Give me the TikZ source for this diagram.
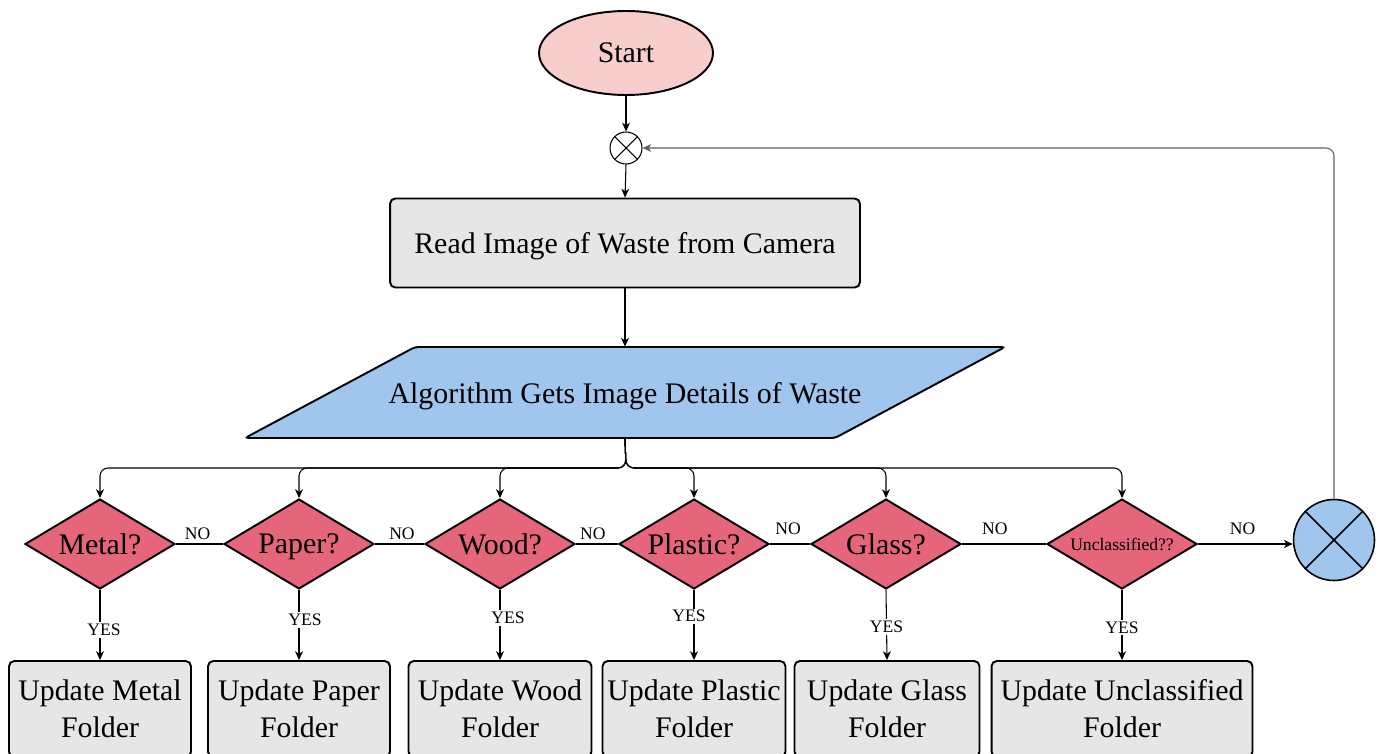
\documentclass[tikz,border=0pt]{standalone}
\usepackage{fontspec}
\setmainfont{Liberation Serif}
\usetikzlibrary{shapes.geometric,arrows.meta}
\definecolor{startpink}{HTML}{F8CECC}
\definecolor{boxgray}{HTML}{E6E6E6}
\definecolor{decred}{HTML}{E5667A}
\definecolor{algblue}{HTML}{A0C6EE}
\definecolor{fbgray}{HTML}{606060}
\begin{document}
\begin{tikzpicture}[x=0.02cm,y=-0.02cm,
  bigtext/.style={font=\fontsize{17}{21}\selectfont},
  lbl/.style={font=\fontsize{10}{12}\selectfont, inner sep=1pt},
  conn/.style={line width=0.6pt, -{Stealth[length=5pt,width=4.5pt,inset=1.5pt]}},
  plainline/.style={line width=0.6pt},
  decision/.style={diamond, draw, line width=1.1pt, fill=decred, minimum width=3cm, minimum height=1.8cm, inner sep=0pt, shape aspect=1.67, bigtext, text depth=0pt},
  folder/.style={rectangle, rounded corners=3pt, draw, line width=1.1pt, fill=boxgray, minimum height=1.92cm, align=center, bigtext, inner sep=0pt},
  sumj/.style={circle, draw, inner sep=0pt}
]
\useasboundingbox (0,0) rectangle (1381,753);
\clip (0,0) rectangle (1381,753);

% start
\node[ellipse, draw, line width=1.1pt, fill=startpink, minimum width=3.48cm, minimum height=1.68cm, bigtext] (start) at (626,53) {Start};

% small junction
\node[sumj, line width=0.6pt, minimum size=0.64cm] (j1) at (626,148) {};
\draw[plainline] (j1.north west) -- (j1.south east);
\draw[plainline] (j1.north east) -- (j1.south west);

% read box
\node[rectangle, rounded corners=3pt, draw, line width=1.1pt, fill=boxgray, minimum width=9.4cm, minimum height=1.78cm, bigtext, text depth=0pt] (read) at (625,243) {Read Image of Waste from Camera};

% parallelogram
\draw[line width=1.1pt, fill=algblue, rounded corners=2pt] (415,347) -- (1005,347) -- (835,438) -- (245,438) -- cycle;
\node[bigtext, text depth=0pt, minimum width=8.4cm, minimum height=1.82cm, inner sep=0pt] (alg) at (625,392.5) {Algorithm Gets Image Details of Waste};

% decisions
\node[decision] (d1) at (100,544) {Metal?};
\node[decision] (d2) at (299,544) {Paper?};
\node[decision] (d3) at (500,544) {Wood?};
\node[decision] (d4) at (694,544) {Plastic?};
\node[decision] (d5) at (886,544) {Glass?};
\node[decision, font=\fontsize{10}{12}\selectfont] (d6) at (1122,544) {Unclassified??};

% big junction
\node[sumj, line width=0.9pt, fill=algblue, minimum size=1.62cm] (big) at (1334,540) {};
\draw[line width=0.9pt] (big.north west) -- (big.south east);
\draw[line width=0.9pt] (big.north east) -- (big.south west);

% folders
\node[folder, minimum width=3.64cm] (f1) at (100,709) {Update Metal\\Folder};
\node[folder, minimum width=3.64cm] (f2) at (299,709) {Update Paper\\Folder};
\node[folder, minimum width=3.66cm] (f3) at (500,709) {Update Wood\\Folder};
\node[folder, minimum width=3.66cm] (f4) at (694,709) {Update Plastic\\Folder};
\node[folder, minimum width=3.70cm] (f5) at (887,709) {Update Glass\\Folder};
\node[folder, minimum width=5.22cm] (f6) at (1122,709) {Update Unclassified\\Folder};

% main flow
\draw[conn] (start.south) -- (j1.north);
\draw[conn] (j1.south) -- (read.north);
\draw[conn] (read.south) -- (alg.north);

\coordinate (bus) at (626,468);
\foreach \d in {d1,d2,d3,d4,d5,d6}
  \draw[conn, rounded corners=0.16cm] (alg.south) -- (bus) -| (\d.north);

% NO connectors
\draw[plainline] (d1.east) -- node[lbl, pos=0.46, yshift=0.2cm] {NO} (d2.west);
\draw[plainline] (d2.east) -- node[lbl, pos=0.55, yshift=0.2cm] {NO} (d3.west);
\draw[plainline] (d3.east) -- node[lbl, pos=0.4, yshift=0.2cm] {NO} (d4.west);
\draw[plainline] (d4.east) -- node[lbl, pos=0.45, yshift=0.3cm] {NO} (d5.west);
\draw[plainline] (d5.east) -- node[lbl, pos=0.39, yshift=0.3cm] {NO} (d6.west);
\draw[conn] (d6.east) -- node[lbl, pos=0.47, yshift=0.3cm] {NO} (d6.east -| big.west);

% YES connectors
\draw[conn] (d1.south) -- node[lbl, pos=0.57, fill=white, xshift=0.08cm] {YES} (f1.north);
\draw[conn] (d2.south) -- node[lbl, pos=0.43, fill=white, xshift=0.12cm] {YES} (f2.north);
\draw[conn] (d3.south) -- node[lbl, pos=0.40, fill=white, xshift=0.16cm] {YES} (f3.north);
\draw[conn] (d4.south) -- node[lbl, pos=0.375, fill=white, xshift=-0.1cm] {YES} (f4.north);
\draw[conn] (d5.south) -- node[lbl, pos=0.53, fill=white] {YES} (f5.north);
\draw[conn] (d6.south) -- node[lbl, pos=0.54, fill=white] {YES} (f6.north);

% feedback
\draw[conn, draw=fbgray, rounded corners=0.16cm] (big.north) |- (j1.east);
\end{tikzpicture}
\end{document}
